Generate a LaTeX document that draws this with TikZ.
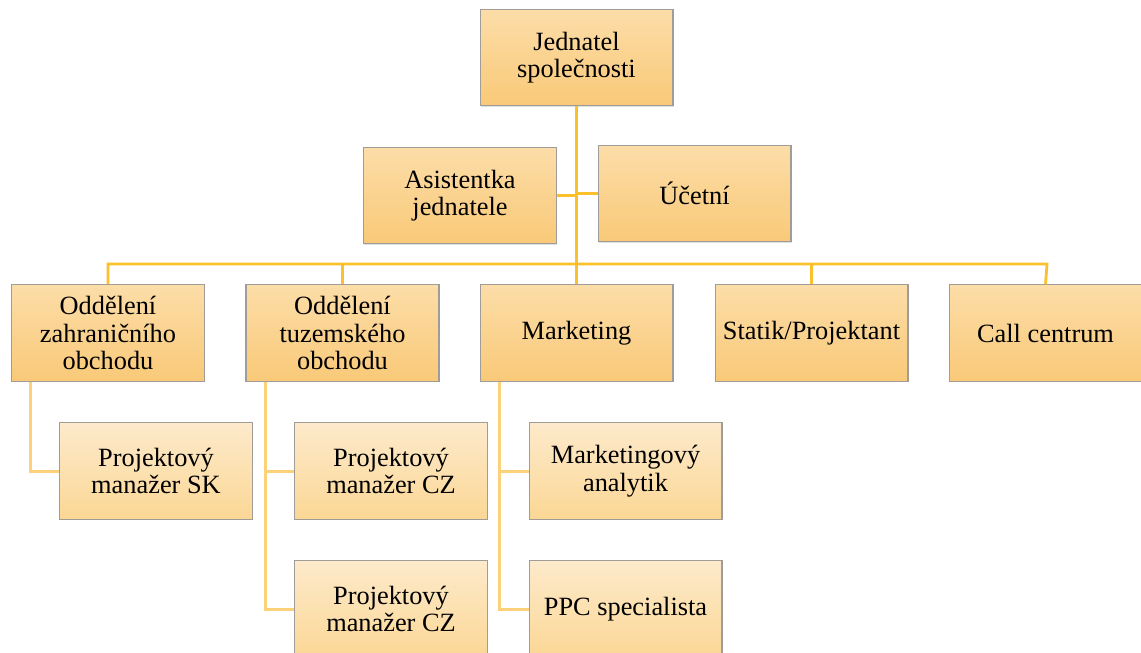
\documentclass[tikz,border=0pt]{standalone}
\usepackage{fontspec}
\setmainfont{Liberation Serif}
\usepackage{tikz}
\usetikzlibrary{shadows}
\definecolor{boxtop}{HTML}{FCDDA8}
\definecolor{boxbot}{HTML}{F9C978}
\definecolor{subtop}{HTML}{FDEACB}
\definecolor{subbot}{HTML}{FBD795}
\definecolor{boxline}{HTML}{A09C98}
\definecolor{busline}{HTML}{FCC02C}
\definecolor{twigline}{HTML}{FDD07A}
\tikzset{
    orgbox/.style={
            draw=boxline, line width=0.6pt, top color=boxtop, bottom color=boxbot,
            minimum width=3.86cm, minimum height=1.93cm, align=center,
            font=\fontsize{15}{15.7}\selectfont,
            drop shadow={opacity=0.25, shadow xshift=0.5pt, shadow yshift=-0.5pt}
        },
    subbox/.style={
            orgbox, top color=subtop, bottom color=subbot
        },
    bus/.style={draw=busline, line width=0.055cm},
    twig/.style={draw=twigline, line width=0.06cm},
}

\begin{document}
\begin{tikzpicture}[x=0.02cm, y=-0.02cm]
        %picture frame
        \clip (0, 0) rectangle (1141, 652);
        %bus points
        \coordinate (hub) at (577, 264);
        \coordinate (right) at (1047, 264);
        %top level boxes
        \node[orgbox] (jed) at (576.5, 57.5) {Jednatel\\společnosti};
        \node[orgbox] (asis) at (460, 195.5) {Asistentka\\jednatele};
        \node[orgbox] (ucet) at (694.5, 193.5) {Účetní};
        %department boxes
        \node[orgbox] (zahr) at (108, 333) {Oddělení\\zahraničního\\obchodu};
        \node[orgbox] (tuz) at (342.5, 333) {Oddělení\\tuzemského\\obchodu};
        \node[orgbox] (mark) at (576.5, 333) {Marketing};
        \node[orgbox] (stat) at (811.5, 333) {Statik/Projektant};
        \node[orgbox] (call) at (1045.5, 333) {Call centrum};
        %staff boxes
        \node[subbox] (sk) at (156, 471) {Projektový\\manažer SK};
        \node[subbox] (czA) at (391, 471) {Projektový\\manažer CZ};
        \node[subbox] (czB) at (391, 609) {Projektový\\manažer CZ};
        \node[subbox] (anal) at (625.5, 471) {Marketingový\\analytik};
        \node[subbox] (ppc) at (625.5, 609) {PPC specialista};
        %trunk and bus
        \draw[bus] (jed.south) -- (mark.north);
        \draw[bus] (asis.east) -- (asis.east -| hub);
        \draw[bus] (ucet.west -| hub) -- (ucet.west);
        \draw[bus] (zahr.north) |- (right) -- (call.north);
        \draw[bus] (tuz.north) -- (tuz.north |- hub);
        \draw[bus] (stat.north) -- (stat.north |- hub);
        %branches to staff
        \draw[twig] ([xshift=-1.56cm]zahr.south) |- (sk.west);
        \draw[twig] ([xshift=-1.55cm]tuz.south) |- (czA.west);
        \draw[twig] ([xshift=-1.55cm]tuz.south) |- (czB.west);
        \draw[twig] ([xshift=-1.55cm]mark.south) |- (anal.west);
        \draw[twig] ([xshift=-1.55cm]mark.south) |- (ppc.west);
    \end{tikzpicture}
\end{document}
